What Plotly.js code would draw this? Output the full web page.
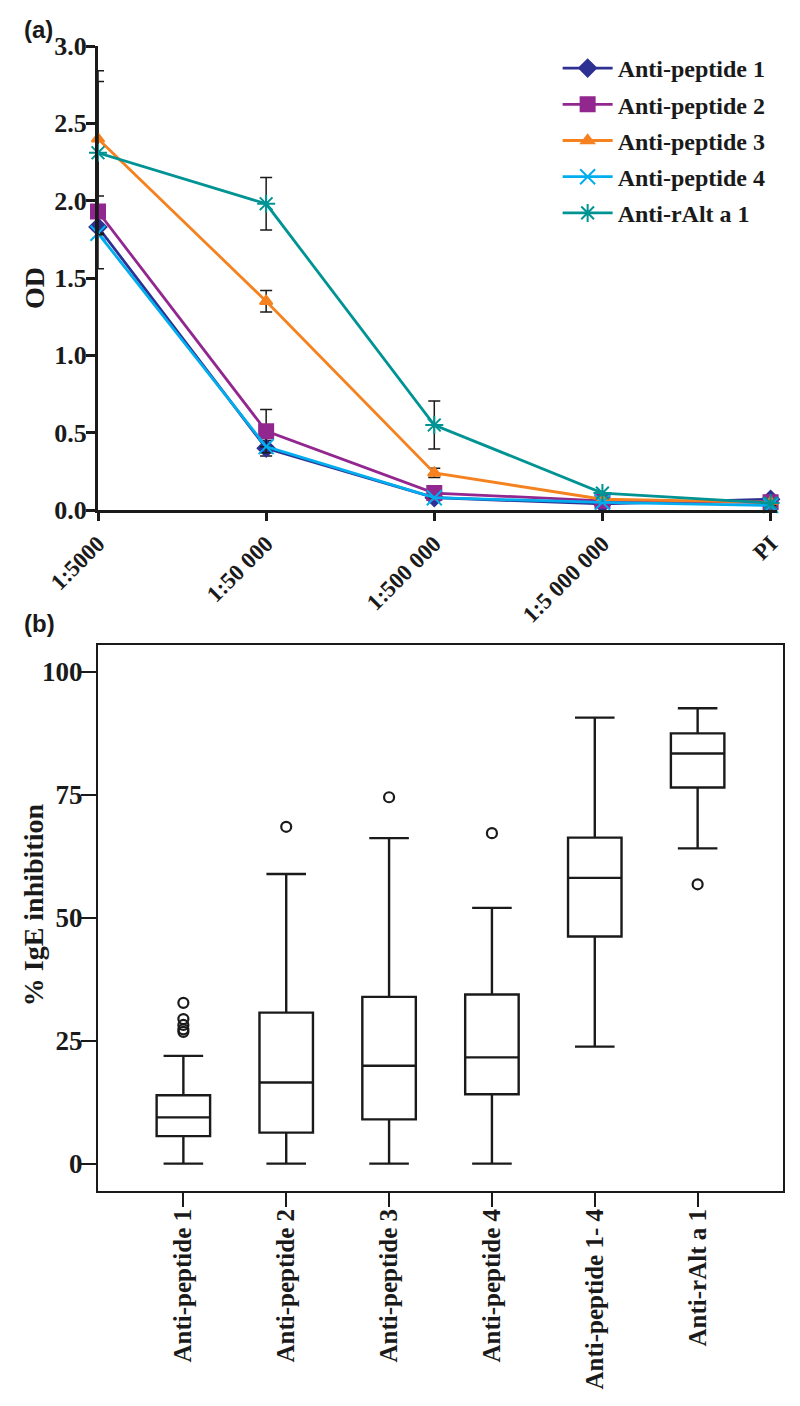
<!DOCTYPE html>
<html>
<head>
<meta charset="utf-8">
<script src="https://cdn.plot.ly/plotly-3.0.1.min.js"></script>
<style>
  body { margin: 0; background: #fff; }
  #chart { width: 800px; height: 1406px; }
</style>
</head>
<body>
<div id="chart"></div>
<script>
// panel (a): dilution curves
const dilutions = ['1:5000', '1:50 000', '1:500 000', '1:5 000 000', 'PI']
const series_names = ['Anti-peptide 1', 'Anti-peptide 2', 'Anti-peptide 3', 'Anti-peptide 4', 'Anti-rAlt a 1']
const od_pep1 = [1.83, 0.40, 0.08, 0.04, 0.07]
const od_pep2 = [1.93, 0.51, 0.11, 0.06, 0.05]
const od_pep3 = [2.40, 1.35, 0.24, 0.07, 0.05]
const od_pep4 = [1.79, 0.41, 0.08, 0.05, 0.03]
const od_ralt = [2.31, 1.98, 0.55, 0.11, 0.045]
const err_pep1 = [0, 0.05, 0, 0, 0]
const err_pep2 = [0.37, 0.14, 0, 0, 0]
const err_pep3 = [0.37, 0.07, 0.03, 0, 0]
const err_pep4 = [0, 0, 0, 0, 0]
const err_ralt = [0.53, 0.17, 0.155, 0, 0]

// panel (b): box plot stats
const groups = ['Anti-peptide 1', 'Anti-peptide 2', 'Anti-peptide 3', 'Anti-peptide 4', 'Anti-peptide 1- 4', 'Anti-rAlt a 1']
const box_low = [0, 0, 0, 0, 23.8, 64.1]
const box_q1 = [5.6, 6.3, 9.0, 14.1, 46.2, 76.5]
const box_med = [9.4, 16.5, 19.9, 21.6, 58.1, 83.4]
const box_q3 = [13.9, 30.7, 33.9, 34.4, 66.3, 87.5]
const box_high = [21.9, 58.9, 66.2, 52.0, 90.7, 92.6]
const outlier_group = ['Anti-peptide 1', 'Anti-peptide 1', 'Anti-peptide 1', 'Anti-peptide 1', 'Anti-peptide 1',
    'Anti-peptide 2', 'Anti-peptide 3', 'Anti-peptide 4', 'Anti-rAlt a 1']
const outlier_val = [32.7, 29.4, 28.2, 27.3, 26.8, 68.5, 74.5, 67.2, 56.8]

const colors = ['#2E3192', '#92278F', '#F5821F', '#00AEEF', '#009394']
const symbols = ['diamond', 'square', 'triangle-up', 'x-thin-open', 'asterisk-open']
const sizes = [13, 14, 11, 15, 15]
const od_values = [od_pep1, od_pep2, od_pep3, od_pep4, od_ralt]
const od_errors = [err_pep1, err_pep2, err_pep3, err_pep4, err_ralt]

const serif = 'Liberation Serif, Times New Roman, serif'
const sans = 'Liberation Sans, Arial, sans-serif'
const ink = '#1a1a1a'

const traces = series_names.map((name, i) => ({
    type: 'scatter',
    mode: 'lines+markers',
    name: name,
    legendgroup: 'g' + i,
    x: dilutions,
    y: od_values[i],
    xaxis: 'x',
    yaxis: 'y',
    cliponaxis: false,
    line: { color: colors[i], width: 2.8 },
    marker: {
        symbol: symbols[i],
        size: sizes[i],
        color: colors[i],
        line: { color: colors[i], width: 2 }
    },
    error_y: {
        type: 'data',
        array: od_errors[i],
        visible: true,
        color: ink,
        thickness: 1.5,
        width: 6
    }
}))

traces.push({
    type: 'box',
    x: groups,
    q1: box_q1,
    median: box_med,
    q3: box_q3,
    lowerfence: box_low,
    upperfence: box_high,
    xaxis: 'x2',
    yaxis: 'y2',
    boxpoints: false,
    width: 0.52,
    whiskerwidth: 0.74,
    fillcolor: 'rgba(0,0,0,0)',
    line: { color: ink, width: 2.4 },
    showlegend: false,
    hoverinfo: 'skip'
})

traces.push({
    type: 'scatter',
    mode: 'markers',
    x: outlier_group,
    y: outlier_val,
    xaxis: 'x2',
    yaxis: 'y2',
    marker: { symbol: 'circle-open', size: 10, color: ink, line: { width: 2.2, color: ink } },
    showlegend: false,
    hoverinfo: 'skip'
})

// axis titles are placed as annotations so they sit where the original puts them
const title_font = { family: serif, size: 28, color: ink, weight: 'bold' }
const panel_font = { family: sans, size: 24, color: ink, weight: 'bold' }

const layout = {
    width: 800,
    height: 1406,
    margin: { l: 98, r: 16.6, t: 46, b: 215.3, pad: 0 },
    paper_bgcolor: '#fff',
    plot_bgcolor: '#fff',
    showlegend: true,
    legend: {
        x: 0.671,
        y: 1.0,
        xanchor: 'left',
        yanchor: 'top',
        traceorder: 'grouped',
        tracegroupgap: 2,
        itemwidth: 50,
        bgcolor: 'rgba(0,0,0,0)',
        font: { family: serif, size: 24, color: ink, weight: 'bold' }
    },
    xaxis: {
        domain: [0, 0.9917],
        anchor: 'y',
        type: 'category',
        range: [0, 4.04],
        showline: true,
        linewidth: 3,
        linecolor: ink,
        ticks: 'outside',
        ticklen: 8,
        tickwidth: 2.5,
        tickcolor: ink,
        tickangle: -45,
        tickfont: { family: serif, size: 23, color: ink, weight: 'bold' },
        showgrid: false,
        zeroline: false
    },
    yaxis: {
        domain: [0.5947, 1],
        anchor: 'x',
        range: [0, 3],
        dtick: 0.5,
        tickformat: '.1f',
        showline: true,
        linewidth: 3,
        linecolor: ink,
        ticks: 'outside',
        ticklen: 9,
        tickwidth: 2.5,
        tickcolor: ink,
        ticklabelstandoff: -6,
        tickfont: { family: serif, size: 26, color: ink, weight: 'bold' },
        showgrid: false,
        zeroline: false
    },
    xaxis2: {
        domain: [0, 1],
        anchor: 'y2',
        type: 'category',
        range: [-0.83, 5.83],
        showline: true,
        mirror: true,
        linewidth: 2,
        linecolor: ink,
        ticks: 'outside',
        ticklen: 14,
        tickwidth: 2,
        tickcolor: ink,
        tickangle: -90,
        ticklabelstandoff: -8,
        tickfont: { family: serif, size: 25, color: ink, weight: 'bold' },
        showgrid: false,
        zeroline: false
    },
    yaxis2: {
        domain: [0, 0.4767],
        anchor: 'x2',
        range: [-5.57, 105.43],
        tickvals: [0, 25, 50, 75, 100],
        showline: true,
        mirror: true,
        linewidth: 2,
        linecolor: ink,
        ticks: 'outside',
        ticklen: 15,
        tickwidth: 2,
        tickcolor: ink,
        ticklabelstandoff: -7,
        tickfont: { family: serif, size: 27, color: ink, weight: 'bold' },
        showgrid: false,
        zeroline: false
    },
    annotations: [
        {
            text: 'OD', xref: 'paper', yref: 'paper', x: -0.0934, y: 0.7886,
            xanchor: 'center', yanchor: 'middle', textangle: -90, showarrow: false,
            font: title_font
        },
        {
            text: '% IgE inhibition', xref: 'paper', yref: 'paper', x: -0.0948, y: 0.2496,
            xanchor: 'center', yanchor: 'middle', textangle: -90, showarrow: false,
            font: title_font
        },
        {
            text: '(a)', xref: 'paper', yref: 'paper', x: -0.111, y: 1.0147,
            xanchor: 'left', yanchor: 'middle', showarrow: false,
            font: panel_font
        },
        {
            text: '(b)', xref: 'paper', yref: 'paper', x: -0.111, y: 0.4958,
            xanchor: 'left', yanchor: 'middle', showarrow: false,
            font: panel_font
        }
    ]
}

Plotly.newPlot('chart', traces, layout, { displayModeBar: false, responsive: false })
</script>
</body>
</html>
